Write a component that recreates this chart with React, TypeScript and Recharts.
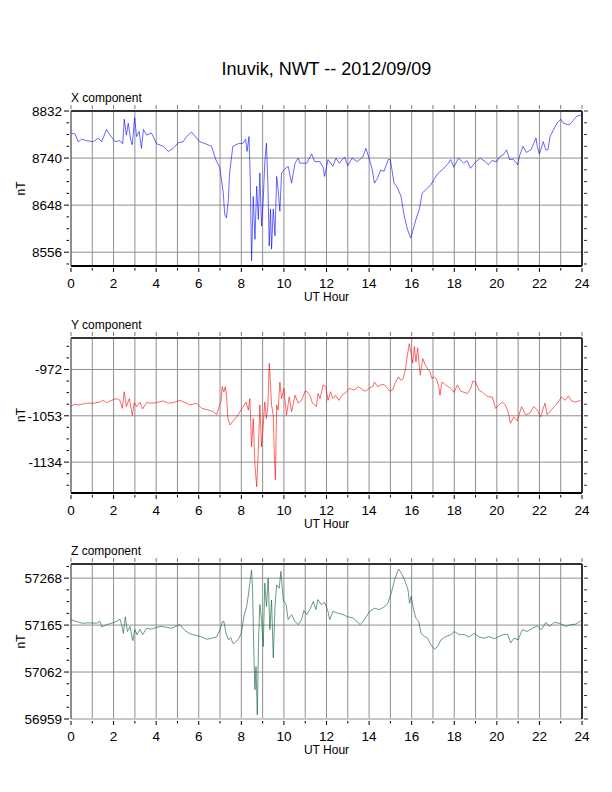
import { LineChart, Line, XAxis, YAxis, CartesianGrid, ReferenceLine } from "recharts";

// UT hours, one grid line each, labels every 2 h
const hourTicks = [0, 1, 2, 3, 4, 5, 6, 7, 8, 9, 10, 11, 12, 13, 14, 15, 16, 17, 18, 19, 20, 21, 22, 23, 24];
const hourLabels = [0, 2, 4, 6, 8, 10, 12, 14, 16, 18, 20, 22, 24];

// X component (nT)
const xCompHours = [
  0, 0.19, 0.34, 0.5, 0.73, 1.05, 1.28, 1.44, 1.67, 1.83, 2.07, 2.3, 2.43, 2.5, 2.6, 2.69, 2.8, 2.88, 2.99,
  3.08, 3.2, 3.31, 3.4, 3.55, 3.78, 4.02, 4.33, 4.57, 4.8, 5.04, 5.27, 5.43, 5.66, 5.9, 6.05, 6.37, 6.6,
  6.8, 6.99, 7.15, 7.22, 7.3, 7.39, 7.45, 7.6, 7.85, 8.08, 8.2, 8.27, 8.36, 8.42, 8.48, 8.56, 8.64, 8.72,
  8.8, 8.87, 8.95, 9.03, 9.1, 9.18, 9.25, 9.31, 9.37, 9.42, 9.5, 9.58, 9.66, 9.73, 9.81, 9.89, 10.05, 10.2,
  10.36, 10.52, 10.67, 10.75, 11.07, 11.3, 11.45, 11.69, 11.84, 11.91, 12.07, 12.3, 12.45, 12.6, 12.85, 13,
  13.2, 13.45, 13.7, 13.85, 14, 14.15, 14.25, 14.4, 14.55, 14.7, 14.9, 15, 15.17, 15.33, 15.5, 15.65, 15.8,
  15.95, 16.05, 16.2, 16.36, 16.5, 16.67, 16.9, 17.05, 17.2, 17.43, 17.67, 17.83, 17.98, 18.2, 18.45, 18.6,
  18.76, 19, 19.22, 19.45, 19.6, 19.77, 20, 20.14, 20.3, 20.46, 20.6, 20.77, 20.98, 21.08, 21.23, 21.39,
  21.6, 21.84, 21.9, 22, 22.18, 22.3, 22.4, 22.5, 22.66, 22.82, 23, 23.1, 23.27, 23.43, 23.6, 23.76, 23.95,
];
const xCompNT = [
  8789, 8787, 8772, 8777, 8774, 8772, 8779, 8772, 8796, 8785, 8772, 8774, 8768, 8816, 8785, 8808, 8776, 8766, 8819,
  8782, 8792, 8759, 8796, 8785, 8789, 8768, 8763, 8753, 8759, 8770, 8772, 8782, 8791, 8779, 8772, 8767, 8763,
  8737, 8721, 8672, 8630, 8623, 8659, 8711, 8763, 8768, 8769, 8777, 8753, 8782, 8698, 8539, 8665, 8581, 8685,
  8620, 8711, 8607, 8659, 8730, 8769, 8685, 8568, 8640, 8562, 8640, 8588, 8704, 8678, 8636, 8711, 8719, 8724,
  8691, 8730, 8740, 8730, 8730, 8748, 8733, 8733, 8722, 8704, 8737, 8724, 8740, 8730, 8742, 8725,
  8740, 8733, 8742, 8759, 8740, 8717, 8691, 8701, 8717, 8714, 8737, 8737, 8691, 8682, 8665, 8627, 8601,
  8584, 8597, 8620, 8640, 8672, 8678, 8688, 8698, 8708, 8717, 8727, 8737, 8722, 8740, 8730, 8735,
  8720, 8732, 8740, 8733, 8727, 8735, 8733, 8743, 8746, 8756, 8737, 8738, 8727, 8746, 8763, 8751,
  8756, 8779, 8763, 8748, 8772, 8756, 8756, 8782, 8795, 8808, 8816, 8809, 8806, 8806, 8814, 8822, 8824,
];
const xCompTicks = [8556, 8648, 8740, 8832];
const xCompRange = [8529, 8832];

// Y component (nT)
const yCompHours = [
  0, 0.15, 0.38, 0.74, 1.05, 1.36, 1.52, 1.67, 1.9, 2.14, 2.3, 2.41, 2.5, 2.6, 2.74, 2.88, 2.97, 3.08, 3.24,
  3.36, 3.55, 3.79, 4.02, 4.33, 4.57, 4.8, 5.12, 5.35, 5.59, 5.9, 6.14, 6.45, 6.68, 6.84, 6.96, 7.04, 7.1,
  7.18, 7.25, 7.31, 7.37, 7.47, 7.62, 7.78, 7.93, 8.09, 8.22, 8.33, 8.4, 8.48, 8.56, 8.64, 8.72, 8.8, 8.87,
  8.95, 9.03, 9.1, 9.18, 9.25, 9.31, 9.37, 9.42, 9.5, 9.55, 9.6, 9.66, 9.73, 9.81, 9.89, 10, 10.12, 10.25,
  10.36, 10.52, 10.67, 10.83, 10.99, 11.07, 11.22, 11.34, 11.45, 11.53, 11.6, 11.7, 11.84, 11.97, 12.07,
  12.19, 12.3, 12.42, 12.58, 12.73, 12.92, 13.08, 13.3, 13.5, 13.7, 13.85, 14, 14.17, 14.25, 14.4, 14.55,
  14.7, 14.86, 14.97, 15.1, 15.25, 15.38, 15.49, 15.6, 15.7, 15.8, 15.89, 15.97, 16.05, 16.13, 16.2, 16.28,
  16.4, 16.52, 16.64, 16.75, 16.86, 16.95, 17.05, 17.17, 17.27, 17.33, 17.42, 17.6, 17.83, 17.99, 18.15,
  18.3, 18.46, 18.62, 18.77, 18.88, 19, 19.16, 19.31, 19.47, 19.62, 19.78, 19.94, 20.1, 20.28, 20.4, 20.53,
  20.64, 20.8, 20.96, 21.16, 21.35, 21.54, 21.74, 21.9, 22.05, 22.26, 22.37, 22.6, 22.84, 23.04, 23.2,
  23.36, 23.51, 23.7, 23.93,
];
const yCompNT = [
  -1037, -1033, -1034, -1031, -1031, -1029, -1026, -1030, -1026, -1023, -1026, -1040, -1011, -1037, -1023, -1052, -1030, -1037, -1029,
  -1041, -1030, -1031, -1030, -1027, -1031, -1030, -1026, -1030, -1034, -1031, -1040, -1043, -1046, -1051, -1037, -1029, -1002,
  -1011, -1002, -1020, -1058, -1069, -1062, -1055, -1046, -1037, -1029, -1043, -1023, -1107, -1058, -1139, -1177, -1110, -1034,
  -1107, -1069, -1029, -1058, -1034, -961, -999, -1034, -1052, -1122, -1165, -1034, -1043, -994, -1023, -1005, -1052, -1020,
  -1046, -1017, -1031, -1026, -1010, -1010, -1017, -1031, -1034, -1037, -1014, -1023, -999, -1002, -1026,
  -1011, -1023, -1017, -1026, -1017, -1012, -1005, -1008, -1002, -1008, -1010, -1005, -1002, -994, -1002, -999,
  -998, -1005, -1010, -1008, -994, -985, -991, -988, -973, -947, -927, -944, -961, -932, -959, -934,
  -982, -953, -964, -971, -976, -988, -985, -989, -1002, -1017, -994, -999, -1005, -1012, -999,
  -1010, -1012, -1014, -1005, -992, -994, -1008, -1011, -1017, -1020, -1020, -1040, -1034, -1029, -1034, -1046,
  -1066, -1055, -1062, -1037, -1051, -1049, -1037, -1043, -1055, -1031, -1051, -1041, -1031, -1020, -1026,
  -1018, -1027, -1029, -1026,
];
const yCompTicks = [-1134, -1053, -972];
const yCompRange = [-1188, -917];

// Z component (nT)
const zCompHours = [
  0, 0.24, 0.55, 0.86, 1.2, 1.36, 1.44, 1.67, 1.9, 2.14, 2.3, 2.38, 2.46, 2.55, 2.65, 2.77, 2.9, 3, 3.1,
  3.24, 3.36, 3.55, 3.79, 4.02, 4.26, 4.49, 4.73, 4.96, 5.12, 5.35, 5.59, 5.9, 6.14, 6.37, 6.6, 6.84, 7,
  7.12, 7.18, 7.28, 7.39, 7.5, 7.62, 7.85, 8, 8.12, 8.25, 8.33, 8.4, 8.48, 8.53, 8.59, 8.64, 8.69, 8.75,
  8.81, 8.87, 8.95, 9.03, 9.1, 9.18, 9.26, 9.34, 9.42, 9.5, 9.58, 9.66, 9.78, 9.86, 9.97, 10.1, 10.2,
  10.36, 10.52, 10.67, 10.83, 10.94, 11.07, 11.22, 11.38, 11.5, 11.6, 11.76, 11.91, 12.07, 12.15, 12.3,
  12.54, 12.77, 13, 13.24, 13.43, 13.58, 13.78, 14.02, 14.25, 14.48, 14.72, 14.88, 15.04, 15.2, 15.31,
  15.39, 15.51, 15.67, 15.83, 15.9, 15.98, 16.09, 16.2, 16.33, 16.44, 16.6, 16.75, 16.9, 17.07, 17.22,
  17.38, 17.61, 17.85, 18, 18.24, 18.47, 18.7, 18.94, 19.17, 19.4, 19.64, 19.87, 20.1, 20.29, 20.5, 20.65,
  20.8, 21, 21.2, 21.43, 21.67, 21.9, 22.09, 22.3, 22.46, 22.7, 22.93, 23.25, 23.48, 23.71, 23.94,
];
const zCompNT = [
  57177, 57173, 57169, 57170, 57169, 57173, 57161, 57166, 57169, 57173, 57178, 57166, 57147, 57183, 57151, 57162, 57131, 57155, 57144,
  57156, 57144, 57158, 57156, 57160, 57162, 57160, 57158, 57163, 57166, 57153, 57146, 57142, 57139, 57134, 57136, 57139, 57155,
  57173, 57173, 57147, 57133, 57137, 57124, 57133, 57147, 57184, 57206, 57231, 57257, 57286, 57242, 57096, 57023, 57074, 56968,
  57133, 57210, 57177, 57118, 57257, 57206, 57268, 57155, 57220, 57093, 57206, 57253, 57246, 57283, 57220, 57210, 57177,
  57188, 57173, 57166, 57177, 57197, 57188, 57199, 57217, 57199, 57221, 57210, 57215, 57195, 57177, 57195,
  57191, 57188, 57183, 57181, 57173, 57166, 57177, 57195, 57202, 57199, 57205, 57213, 57235, 57264, 57279,
  57288, 57279, 57264, 57242, 57213, 57228, 57199, 57180, 57173, 57147, 57140, 57136, 57122, 57112, 57118,
  57133, 57140, 57144, 57151, 57144, 57144, 57139, 57147, 57139, 57136, 57140, 57135, 57140, 57144, 57145, 57126,
  57136, 57133, 57155, 57151, 57158, 57163, 57155, 57171, 57162, 57171, 57169, 57162, 57166, 57167, 57174,
];
const zCompTicks = [56959, 57062, 57165, 57268];
const zCompRange = [56959, 57299];

const font = "'Liberation Sans', Arial, Helvetica, sans-serif";
const gridColor = "#8f8f8f";

// quarter-step ticks between and around the labelled ones
function quarterTicks(majors: number[], range: number[]) {
  const step = (majors[1] - majors[0]) / 4;
  let v = majors[0];
  while (v - step >= range[0] - 1e-6) v -= step;
  const out: number[] = [];
  for (; v <= range[1] + 1e-6; v += step) out.push(v);
  return out;
}

const isMajor = (majors: number[], v: number) => majors.some((m) => Math.abs(m - v) < 1e-6);

function LeftTick(props: any) {
  const { x, y, payload, majors } = props;
  const major = isMajor(majors, payload.value);
  return (
    <g>
      <line x1={x - (major ? 5 : 2.5)} x2={x} y1={y} y2={y} stroke="#000" strokeWidth={1} />
      {major && (
        <text x={x - 7} y={y} dy="0.36em" textAnchor="end" fontSize={13.5} fill="#000">
          {Math.round(payload.value)}
        </text>
      )}
    </g>
  );
}

function RightTick(props: any) {
  const { x, y, payload, majors } = props;
  const major = isMajor(majors, payload.value);
  return <line x1={x} x2={x + (major ? 4 : 3)} y1={y} y2={y} stroke="#333" strokeWidth={1} />;
}

function BottomTick(props: any) {
  const { x, y, payload } = props;
  const labelled = hourLabels.includes(payload.value);
  return (
    <g>
      <line x1={x} x2={x} y1={y} y2={y + (labelled ? 4 : 2.5)} stroke="#000" strokeWidth={1} />
      {labelled && (
        <text x={x} y={y + 20} textAnchor="middle" fontSize={13.5} fill="#000">
          {payload.value}
        </text>
      )}
    </g>
  );
}

function TopTick(props: any) {
  const { x, y } = props;
  return <line x1={x} x2={x} y1={y - 4} y2={y} stroke="#777" strokeWidth={1} />;
}

type PanelProps = {
  plotTop: number;
  hours: number[];
  values: number[];
  majors: number[];
  range: number[];
  color: string;
  bottomColor: string;
};

function Panel({ plotTop, hours, values, majors, range, color, bottomColor }: PanelProps) {
  const data = hours.map((h, i) => ({ h, v: values[i] }));
  const minors = quarterTicks(majors, range);
  return (
    <div style={{ position: "absolute", left: 0, top: plotTop - 30 }}>
      <LineChart width={612} height={226} data={data} margin={{ top: 24, right: 20, bottom: 7, left: 21 }}>
        <CartesianGrid horizontal={false} stroke={gridColor} strokeDasharray="" />
        <XAxis
          dataKey="h"
          type="number"
          domain={[0, 24]}
          ticks={hourTicks}
          interval={0}
          height={34}
          tickSize={0}
          tickLine={false}
          axisLine={{ stroke: bottomColor, strokeWidth: 2 }}
          tick={(p: any) => <BottomTick {...p} />}
          label={{ value: "UT Hour", position: "insideBottom", offset: -0.7, fontSize: 12, fill: "#000" }}
          allowDataOverflow
        />
        <XAxis
          xAxisId="top"
          dataKey="h"
          orientation="top"
          type="number"
          domain={[0, 24]}
          ticks={hourTicks}
          interval={0}
          height={6}
          tickSize={0}
          tickLine={false}
          axisLine={{ stroke: "#333", strokeWidth: 2 }}
          tick={(p: any) => <TopTick {...p} />}
          allowDataOverflow
        />
        <YAxis
          type="number"
          domain={range}
          ticks={minors}
          interval={0}
          width={50}
          tickSize={0}
          tickLine={false}
          axisLine={{ stroke: "#555", strokeWidth: 1 }}
          tick={(p: any) => <LeftTick {...p} majors={majors} />}
          allowDataOverflow
        />
        <YAxis
          yAxisId="right"
          orientation="right"
          type="number"
          domain={range}
          ticks={minors}
          interval={0}
          width={10}
          tickSize={0}
          tickLine={false}
          axisLine={{ stroke: "#333", strokeWidth: 2 }}
          tick={(p: any) => <RightTick {...p} majors={majors} />}
          allowDataOverflow
        />
        {majors.map((m) => (
          <ReferenceLine key={m} y={m} stroke={gridColor} strokeWidth={1} />
        ))}
        <Line
          type="linear"
          dataKey="v"
          stroke={color}
          strokeWidth={0.6}
          dot={false}
          activeDot={false}
          isAnimationActive={false}
        />
      </LineChart>
    </div>
  );
}

const panelTops = [111, 337.5, 564];
const panelNames = ["X component", "Y component", "Z component"];

export default function App() {
  return (
    <div style={{ position: "relative", width: 612, height: 792, fontFamily: font, background: "#fff" }}>
      <style>{`body { margin: 0; }`}</style>
      <Panel plotTop={panelTops[0]} hours={xCompHours} values={xCompNT} majors={xCompTicks} range={xCompRange} color="#0000ff" bottomColor="#000" />
      <Panel plotTop={panelTops[1]} hours={yCompHours} values={yCompNT} majors={yCompTicks} range={yCompRange} color="#ff0000" bottomColor="#000" />
      <Panel plotTop={panelTops[2]} hours={zCompHours} values={zCompNT} majors={zCompTicks} range={zCompRange} color="#00592b" bottomColor="#c8c8c8" />

      {/* titles and axis names */}
      <svg width={612} height={792} style={{ position: "absolute", left: 0, top: 0, pointerEvents: "none" }}>
        <text x={326.5} y={75} textAnchor="middle" fontSize={18} fill="#000">
          Inuvik, NWT -- 2012/09/09
        </text>
        {panelTops.map((t, i) => (
          <g key={i}>
            <text x={71} y={t - 9} fontSize={12} fill="#000">
              {panelNames[i]}
            </text>
            <text
              x={25}
              y={t + 77.5}
              fontSize={12}
              fill="#000"
              textAnchor="middle"
              transform={`rotate(-90 25 ${t + 77.5})`}
            >
              nT
            </text>
          </g>
        ))}
      </svg>
    </div>
  );
}
